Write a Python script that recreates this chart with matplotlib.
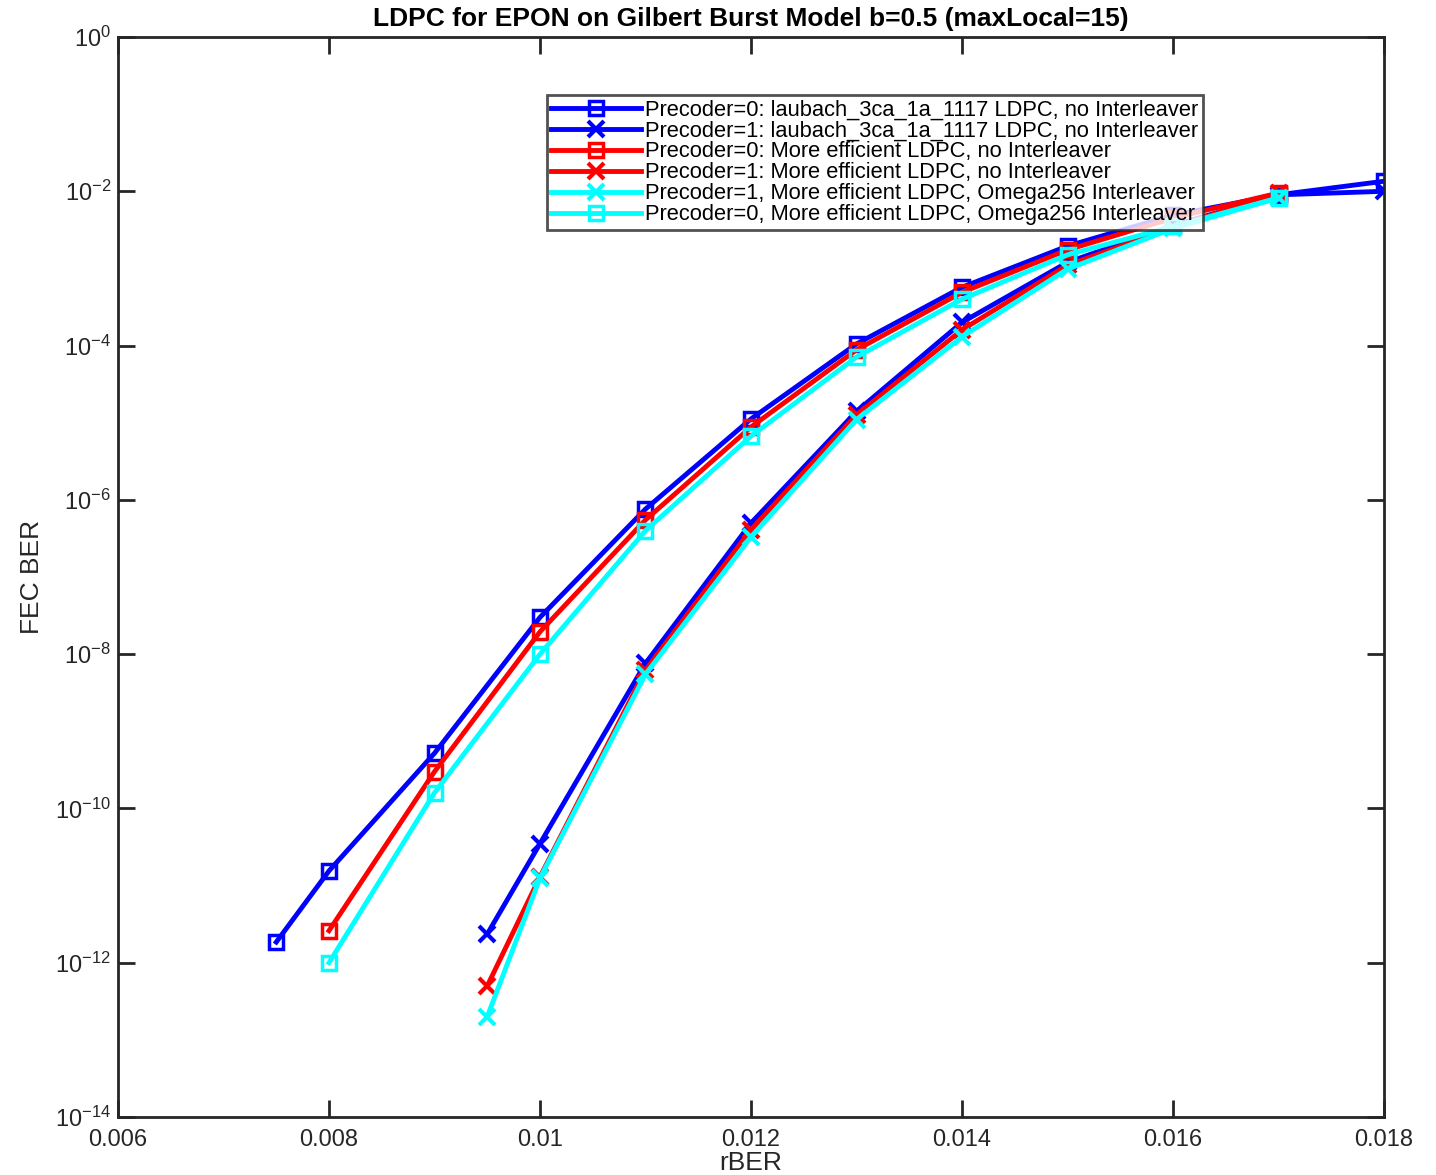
import matplotlib
matplotlib.use("Agg")
import matplotlib.pyplot as plt
import numpy as np

plt.rcParams['font.family'] = ['Liberation Sans', 'DejaVu Sans']

x_p0_laubach = [0.0075, 0.008, 0.009, 0.010, 0.011, 0.012, 0.013, 0.014, 0.015, 0.016, 0.017, 0.018]
y_p0_laubach = [1.85e-12, 1.55e-11, 5.2e-10, 3.0e-8, 7.6e-7, 1.12e-5, 1.05e-4, 5.7e-4, 1.95e-3, 4.9e-3, 9.0e-3, 1.35e-2]

x_p1_laubach = [0.0095, 0.010, 0.011, 0.012, 0.013, 0.014, 0.015, 0.016, 0.017, 0.018]
y_p1_laubach = [2.35e-12, 3.5e-11, 7.6e-9, 5.0e-7, 1.4e-5, 2.0e-4, 1.2e-3, 3.6e-3, 9.0e-3, 1.0e-2]

x_p0_eff = [0.008, 0.009, 0.010, 0.011, 0.012, 0.013, 0.014, 0.015, 0.016, 0.017]
y_p0_eff = [2.6e-12, 3.0e-10, 1.95e-8, 5.5e-7, 8.8e-6, 8.8e-5, 4.9e-4, 1.74e-3, 4.5e-3, 9.5e-3]

x_p1_eff = [0.0095, 0.010, 0.011, 0.012, 0.013, 0.014, 0.015, 0.016, 0.017]
y_p1_eff = [5.0e-13, 1.3e-11, 6.2e-9, 4.1e-7, 1.26e-5, 1.6e-4, 1.1e-3, 3.4e-3, 9.5e-3]

x_p1_omega = [0.0095, 0.010, 0.011, 0.012, 0.013, 0.014, 0.015, 0.016, 0.017]
y_p1_omega = [2.0e-13, 1.25e-11, 5.5e-9, 3.3e-7, 1.1e-5, 1.3e-4, 9.8e-4, 3.3e-3, 8.2e-3]

x_p0_omega = [0.008, 0.009, 0.010, 0.011, 0.012, 0.013, 0.014, 0.015, 0.016, 0.017]
y_p0_omega = [1.0e-12, 1.6e-10, 1.0e-8, 4.0e-7, 6.7e-6, 7.1e-5, 4.0e-4, 1.5e-3, 3.5e-3, 8.2e-3]

labels = [
    "Precoder=0: laubach_3ca_1a_1117 LDPC, no Interleaver",
    "Precoder=1: laubach_3ca_1a_1117 LDPC, no Interleaver",
    "Precoder=0: More efficient LDPC, no Interleaver",
    "Precoder=1: More efficient LDPC, no Interleaver",
    "Precoder=1, More efficient LDPC, Omega256 Interleaver",
    "Precoder=0, More efficient LDPC, Omega256 Interleaver",
]

fig = plt.figure(figsize=(14.36, 11.75), dpi=100)
ax = fig.add_axes([118/1436, 1 - 1117/1175, (1384-118)/1436, (1117-37)/1175])

lw = 3.5
ax.plot(x_p0_laubach, y_p0_laubach, color='#0000ff', marker='s', ms=10, mfc='none', mew=2.5, lw=lw, label=labels[0])
ax.plot(x_p1_laubach, y_p1_laubach, color='#0000ff', marker='x', ms=12, mew=3, lw=lw, label=labels[1])
ax.plot(x_p0_eff, y_p0_eff, color='#ff0000', marker='s', ms=10, mfc='none', mew=2.5, lw=lw, label=labels[2])
ax.plot(x_p1_eff, y_p1_eff, color='#ff0000', marker='x', ms=12, mew=3, lw=lw, label=labels[3])
ax.plot(x_p1_omega, y_p1_omega, color='#00ffff', marker='x', ms=12, mew=3, lw=lw, label=labels[4])
ax.plot(x_p0_omega, y_p0_omega, color='#00ffff', marker='s', ms=10, mfc='none', mew=2.5, lw=lw, label=labels[5])

ax.set_yscale('log')
ax.set_xlim(0.006, 0.018)
ax.set_ylim(1e-14, 1e0)
ax.set_xticks([0.006, 0.008, 0.010, 0.012, 0.014, 0.016, 0.018])
ax.set_xticklabels(['0.006', '0.008', '0.01', '0.012', '0.014', '0.016', '0.018'])
ax.set_yticks([10.0**k for k in range(-14, 1, 2)])
ax.set_yticklabels([r'$\mathregular{10^{%d}}$' % k for k in range(-14, 1, 2)])
ax.yaxis.set_minor_locator(matplotlib.ticker.NullLocator())
ax.tick_params(direction='in', length=12, width=2, labelsize=17, color='#262626', labelcolor='#262626', top=True, right=True)
ax.tick_params(axis='x', pad=9)
ax.tick_params(axis='y', pad=5)
for s in ax.spines.values():
    s.set_linewidth(2)
    s.set_color('#262626')

ax.set_xlabel('rBER', fontsize=19, labelpad=0, color='#262626')
ax.set_ylabel('FEC BER', fontsize=19, labelpad=8, color='#262626')
ax.set_title('LDPC for EPON on Gilbert Burst Model b=0.5 (maxLocal=15)', fontsize=19, fontweight='bold', pad=8)

leg = ax.legend(loc='upper left', bbox_to_anchor=((547-118)/1266, (1117-95)/1080), fontsize=15.75,
                frameon=True, fancybox=False, edgecolor='#262626', handlelength=4.1, handletextpad=0.2,
                labelspacing=0.0, borderpad=0.2, borderaxespad=0)
leg.get_frame().set_linewidth(2)

fig.savefig('out.png', dpi=100)
